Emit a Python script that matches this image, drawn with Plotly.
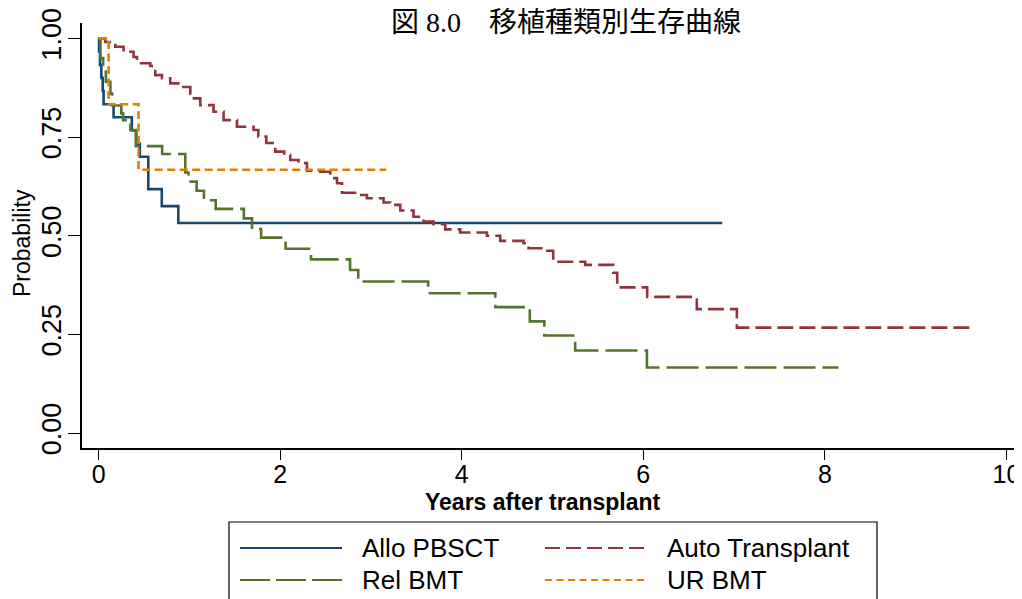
import plotly.graph_objects as go

# ---- data ----
allo_t = [0, 0.005, 0.015, 0.03, 0.045, 0.055, 0.165, 0.366, 0.415, 0.454, 0.547, 0.696, 0.878, 6.87]
allo_s = [1, 0.967, 0.933, 0.9, 0.867, 0.833, 0.80, 0.767, 0.733, 0.70, 0.618, 0.575, 0.532, 0.532]

auto_t = [0, 0.074, 0.184, 0.275, 0.385, 0.423, 0.569, 0.624, 0.698, 0.789, 0.899, 1.010, 1.120,
          1.266, 1.377, 1.524, 1.707, 1.759, 1.847, 1.946, 2.045, 2.111, 2.203, 2.295, 2.442,
          2.552, 2.626, 2.681, 2.846, 2.956, 3.139, 3.213, 3.323, 3.469, 3.579, 3.689, 3.818,
          3.983, 4.278, 4.424, 4.681, 4.736, 4.942, 5.008, 5.360, 5.669, 5.713, 6.043, 6.590,
          7.031, 9.636]
auto_s = [1, 0.991, 0.979, 0.966, 0.953, 0.937, 0.930, 0.907, 0.899, 0.886, 0.877, 0.848, 0.831,
          0.814, 0.793, 0.776, 0.768, 0.751, 0.735, 0.713, 0.705, 0.692, 0.684, 0.665, 0.662,
          0.646, 0.633, 0.609, 0.603, 0.595, 0.584, 0.578, 0.564, 0.548, 0.536, 0.529, 0.516,
          0.508, 0.500, 0.487, 0.481, 0.468, 0.462, 0.434, 0.426, 0.406, 0.369, 0.345, 0.314,
          0.267, 0.267]

rel_t = [0, 0.02, 0.05, 0.08, 0.13, 0.15, 0.25, 0.27, 0.35, 0.41, 0.70, 0.955, 0.99, 1.08, 1.16,
         1.29, 1.60, 1.69, 1.79, 2.06, 2.34, 2.77, 2.86, 3.63, 4.37, 4.75, 4.91, 5.25, 6.04, 8.15]
rel_s = [1, 0.95, 0.92, 0.89, 0.86, 0.83, 0.81, 0.793, 0.768, 0.727, 0.707, 0.66, 0.637, 0.614,
         0.59, 0.568, 0.544, 0.517, 0.495, 0.467, 0.44, 0.413, 0.384, 0.354, 0.319, 0.283, 0.247,
         0.209, 0.166, 0.166]

ur_t = [0, 0.11, 0.44, 3.17]
ur_s = [1, 0.833, 0.667, 0.667]

series_names = ["Allo PBSCT", "Auto Transplant", "Rel BMT", "UR BMT"]
x_ticks = [0, 2, 4, 6, 8, 10]
y_ticks = [0, 0.25, 0.5, 0.75, 1.0]
y_tick_text = ["0.00", "0.25", "0.50", "0.75", "1.00"]
title_text = "図 8.0\u3000移植種類別生存曲線"
x_title = "<b>Years after transplant</b>"
y_title = "Probability"

# ---- styles / layout ----
colors = ["#1a476f", "#90353b", "#55752f", "#e37e00"]
dashes = ["solid", "16px,6px", "32px,7px", "8px,4.5px"]
legend_dashes = ["solid", "15px,6px", "30px,6px", "7px,4.5px"]
data = [(allo_t, allo_s), (auto_t, auto_s), (rel_t, rel_s), (ur_t, ur_s)]

OFF = 8  # page body margin
W, H = 1022 - OFF, 599 - OFF
L, T = 82 - OFF, 23 - OFF
R = W - (1020 - OFF)
B = H - (448 - OFF)
pw, ph = W - L - R, H - T - B

def px(x):   # reference page pixel -> paper x
    return (x - OFF - L) / pw

def py(y):   # reference page pixel -> paper y
    return (H - B - (y - OFF)) / ph

fig = go.Figure()
for (t, s), name, c, d in zip(data, series_names, colors, dashes):
    fig.add_trace(go.Scatter(x=t, y=s, mode="lines", name=name, line_shape="hv",
                             line=dict(color=c, width=2.6, dash=d), showlegend=False))

FONT = "Liberation Sans, Arial, sans-serif"

fig.update_layout(
    width=W, height=H,
    margin=dict(l=L, r=R, t=T, b=B, autoexpand=False),
    paper_bgcolor="white", plot_bgcolor="white",
    title=dict(text=title_text, xref="container", yref="container",
               x=(566 - OFF) / W, y=1 - (22 - OFF) / H, xanchor="center", yanchor="middle",
               font=dict(family="Liberation Serif, Noto Sans CJK JP", size=28, color="black")),
    xaxis=dict(range=[-0.183, 10.15], tickvals=x_ticks, ticks="outside", ticklen=10,
               tickwidth=1.3, tickcolor="black", showline=True, linecolor="black",
               linewidth=1.5, showgrid=False, zeroline=False, automargin=False,
               ticklabelstandoff=-7, ticklabeloverflow="allow",
               tickfont=dict(family=FONT, size=25, color="black")),
    yaxis=dict(range=[-0.038, 1.039], tickvals=y_ticks, ticktext=y_tick_text, ticks="outside",
               ticklen=12, tickwidth=1.3, tickcolor="black", showline=True, linecolor="black",
               linewidth=1.5, showgrid=False, zeroline=False, tickangle=-90, automargin=False,
               ticklabelstandoff=-4, ticklabeloverflow="allow",
               tickfont=dict(family=FONT, size=27, color="black")),
)

# axis titles
fig.add_annotation(xref="paper", yref="paper", x=px(543), y=py(502), text=x_title,
                   showarrow=False, xanchor="center", yanchor="middle",
                   font=dict(family=FONT, size=23, color="black"))
fig.add_annotation(xref="paper", yref="paper", x=px(22), y=py(243), text=y_title,
                   showarrow=False, xanchor="center", yanchor="middle", textangle=-90,
                   font=dict(family=FONT, size=23, color="black"))

# ---- manual legend (long line samples like the reference) ----
shapes = [dict(type="rect", xref="paper", yref="paper", x0=px(229), x1=px(877),
               y0=py(606), y1=py(522), line=dict(color="black", width=1.2),
               fillcolor="white", layer="below")]
rows = [548, 580]
cols = [(240, 342, 360), (545, 648, 665)]
for i, (name, c, d) in enumerate(zip(series_names, colors, legend_dashes)):
    r, col = divmod(i, 2)
    x0, x1, xt = cols[col]
    yv = py(rows[r])
    shapes.append(dict(type="line", xref="paper", yref="paper", x0=px(x0), x1=px(x1),
                       y0=yv, y1=yv, line=dict(color=c, width=2, dash=d)))
    fig.add_annotation(xref="paper", yref="paper", x=px(xt), y=yv, text=name,
                       showarrow=False, xanchor="left", yanchor="middle",
                       font=dict(family=FONT, size=26, color="black"))
fig.update_layout(shapes=shapes)

fig.write_html("out.html")
